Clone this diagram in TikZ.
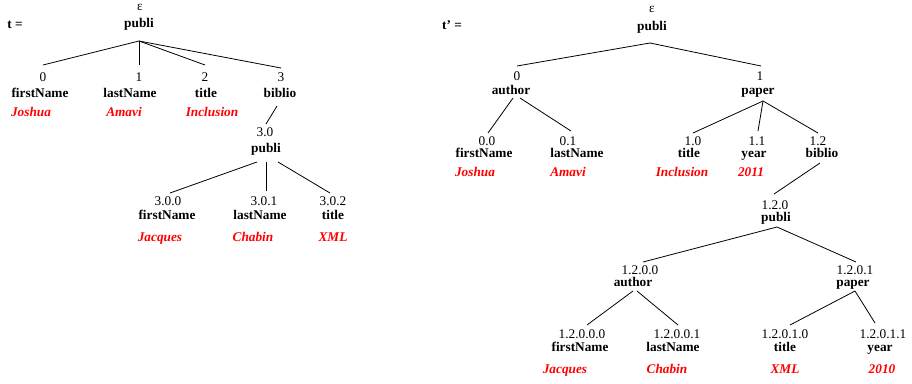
\documentclass[tikz,border=0pt]{standalone}
\usepackage{fontspec}
\setmainfont{Liberation Serif}
\begin{document}
\begin{tikzpicture}[x=1pt,y=-1pt,
  every node/.style={inner sep=0pt,text height=9.5pt,text depth=3pt,font=\fontsize{13.3}{16}\selectfont},
  num/.style={},
  lab/.style={font=\fontsize{13.3}{16}\selectfont\bfseries},
  val/.style={text=red,font=\fontsize{13.3}{16}\selectfont\bfseries\itshape},
  edge/.style={draw=black,line width=0.8pt}]
\useasboundingbox (0,0) rectangle (912,383);
% ---------- left tree ----------
\node[lab] (tl) at (15,25) {t =};
\node[num] (Leps) at (140,7) {ε};
\node[lab] (Lpub) at (139,24) {publi};
\node[num] (L0n) at (43,78) {0};
\node[lab] (L0) at (40,94) {firstName};
\node[val] (L0v) at (31,113) {Joshua};
\node[num] (L1n) at (139,78) {1};
\node[lab] (L1) at (130,94) {lastName};
\node[val] (L1v) at (124,113) {Amavi};
\node[num] (L2n) at (205,78) {2};
\node[lab] (L2) at (206,94) {title};
\node[val] (L2v) at (212,113) {Inclusion};
\node[num] (L3n) at (281,78) {3};
\node[lab] (L3) at (280,94) {biblio};
\node[num] (L30n) at (265,133) {3.0};
\node[lab] (L30) at (266,149) {publi};
\node[num] (L300n) at (168,202) {3.0.0};
\node[lab] (L300) at (167,216) {firstName};
\node[val] (L300v) at (160,238) {Jacques};
\node[num] (L301n) at (264,202) {3.0.1};
\node[lab] (L301) at (260,216) {lastName};
\node[val] (L301v) at (253,238) {Chabin};
\node[num] (L302n) at (333,202) {3.0.2};
\node[lab] (L302) at (333,216) {title};
\node[val] (L302v) at (333,238) {XML};
\path[edge] ([shift={(0,17)}]Lpub.center) -- ([shift={(0,-13)}]L0n.center);
\path[edge] ([shift={(0,17)}]Lpub.center) -- ([shift={(0,-13)}]L1n.center);
\path[edge] ([shift={(0,17)}]Lpub.center) -- ([shift={(0,-13)}]L2n.center);
\path[edge] ([shift={(0,17)}]Lpub.center) -- ([shift={(0,-10)}]L3n.center);
\path[edge] ([shift={(-3,12)}]L3.center) -- ([shift={(1,-9)}]L30n.center);
\path[edge] ([shift={(-9,13)}]L30.center) -- ([shift={(2,-9)}]L300n.center);
\path[edge] ([shift={(0,13)}]L30.center) -- ([shift={(2,-11)}]L301n.center);
\path[edge] ([shift={(12,13)}]L30.center) -- ([shift={(-3,-9)}]L302n.center);
% ---------- right tree ----------
\node[lab] (tr) at (452,26) {t’ =};
\node[num] (Reps) at (652,9) {ε};
\node[lab] (Rpub) at (652,27) {publi};
\node[num] (R0n) at (517,77) {0};
\node[lab] (R0) at (511,91) {author};
\node[num] (R1n) at (760,77) {1};
\node[lab] (R1) at (758,91) {paper};
\node[num] (R00n) at (487,142) {0.0};
\node[lab] (R00) at (484,154) {firstName};
\node[val] (R00v) at (475,173) {Joshua};
\node[num] (R01n) at (568,142) {0.1};
\node[lab] (R01) at (577,154) {lastName};
\node[val] (R01v) at (568,173) {Amavi};
\node[num] (R10n) at (693,142) {1.0};
\node[lab] (R10) at (689,154) {title};
\node[val] (R10v) at (682,173) {Inclusion};
\node[num] (R11n) at (757,142) {1.1};
\node[lab] (R11) at (754,154) {year};
\node[val] (R11v) at (751,173) {2011};
\node[num] (R12n) at (818,142) {1.2};
\node[lab] (R12) at (822,154) {biblio};
\node[num] (R120n) at (775,206) {1.2.0};
\node[lab] (R120) at (776,218) {publi};
\node[num] (R1200n) at (640,271) {1.2.0.0};
\node[lab] (R1200) at (633,283) {author};
\node[num] (R1201n) at (855,271) {1.2.0.1};
\node[lab] (R1201) at (853,283) {paper};
\node[num] (R12000n) at (582,335) {1.2.0.0.0};
\node[lab] (R12000) at (580,348) {firstName};
\node[val] (R12000v) at (565,370) {Jacques};
\node[num] (R12001n) at (677,335) {1.2.0.0.1};
\node[lab] (R12001) at (673,348) {lastName};
\node[val] (R12001v) at (667,370) {Chabin};
\node[num] (R12010n) at (785,335) {1.2.0.1.0};
\node[lab] (R12010) at (785,348) {title};
\node[val] (R12010v) at (785,370) {XML};
\node[num] (R12011n) at (883,335) {1.2.0.1.1};
\node[lab] (R12011) at (880,348) {year};
\node[val] (R12011v) at (882,370) {2010};
\path[edge] ([shift={(-2,16)}]Rpub.center) -- ([shift={(0,-11)}]R0n.center);
\path[edge] ([shift={(-2,16)}]Rpub.center) -- ([shift={(1,-11)}]R1n.center);
\path[edge] ([shift={(2,7)}]R0.center) -- ([shift={(1,-9)}]R00n.center);
\path[edge] ([shift={(9,7)}]R0.center) -- ([shift={(3,-11)}]R01n.center);
\path[edge] ([shift={(5,10)}]R1.center) -- ([shift={(0,-9)}]R10n.center);
\path[edge] ([shift={(5,10)}]R1.center) -- ([shift={(1,-11)}]R11n.center);
\path[edge] ([shift={(5,10)}]R1.center) -- ([shift={(0,-9)}]R12n.center);
\path[edge] ([shift={(-2,9)}]R12.center) -- ([shift={(-1,-12)}]R120n.center);
\path[edge] ([shift={(1,9)}]R120.center) -- ([shift={(3,-9)}]R1200n.center);
\path[edge] ([shift={(1,9)}]R120.center) -- ([shift={(1,-9)}]R1201n.center);
\path[edge] ([shift={(0,8)}]R1200.center) -- ([shift={(5,-10)}]R12000n.center);
\path[edge] ([shift={(4,8)}]R1200.center) -- ([shift={(1,-10)}]R12001n.center);
\path[edge] ([shift={(2,8)}]R1201.center) -- ([shift={(5,-10)}]R12010n.center);
\path[edge] ([shift={(2,8)}]R1201.center) -- ([shift={(-8,-12)}]R12011n.center);
\end{tikzpicture}
\end{document}
